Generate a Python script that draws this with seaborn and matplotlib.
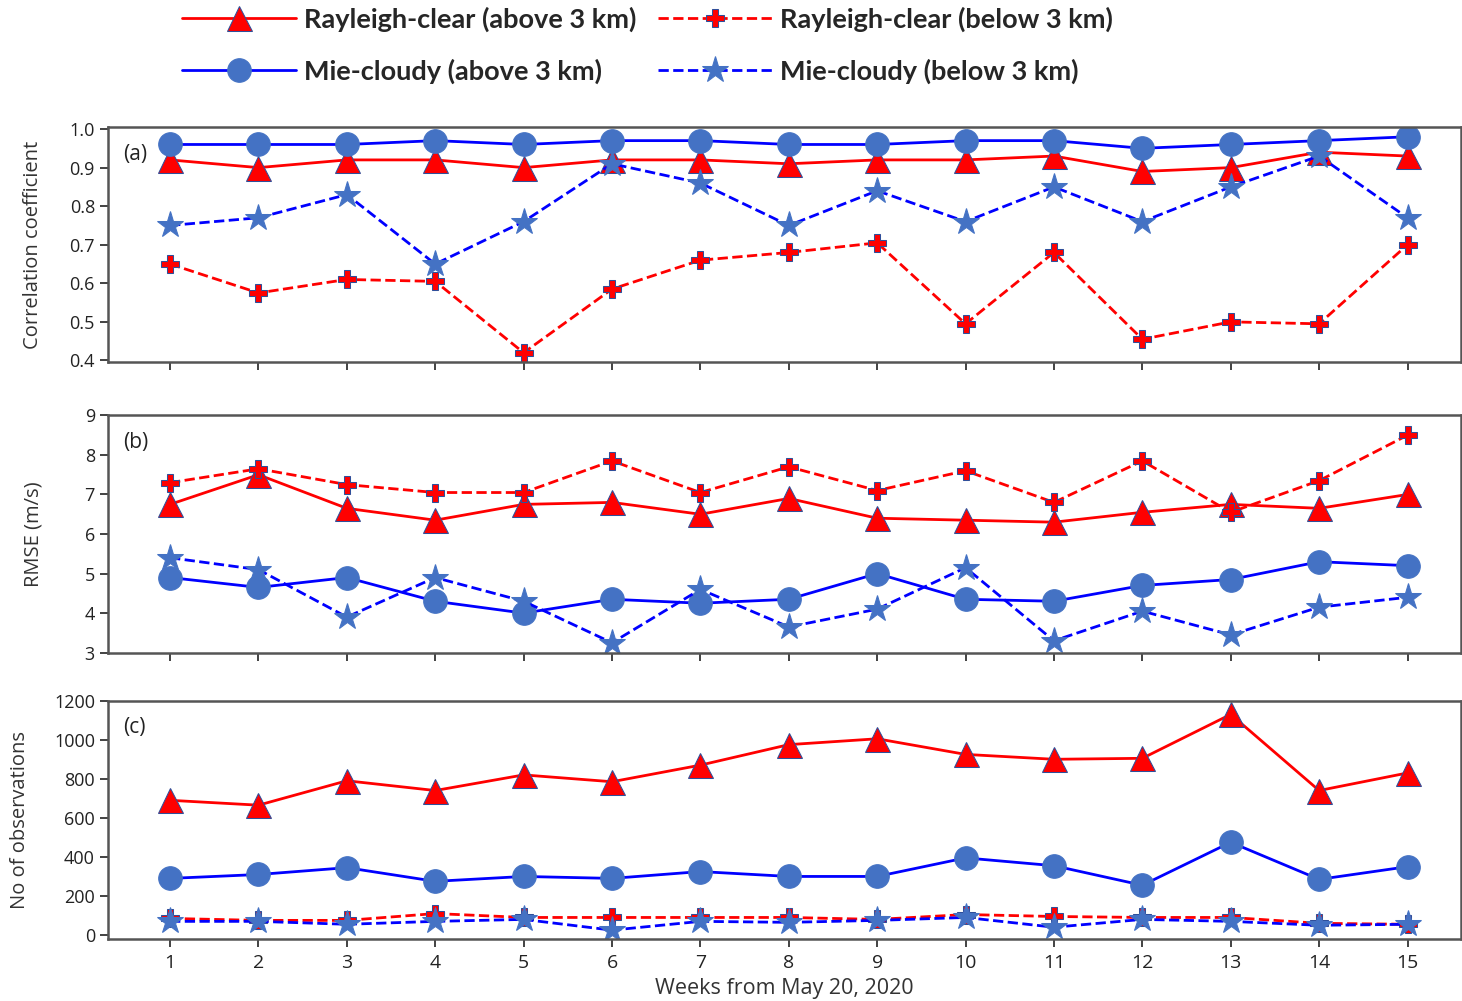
import numpy as np
import pandas as pd
import matplotlib
matplotlib.use("Agg")
import matplotlib.pyplot as plt
import seaborn as sns

# ================= DATA =================
weeks = list(range(1, 16))

# (a) correlation coefficient
corr_ray_above = [0.92, 0.90, 0.92, 0.92, 0.90, 0.92, 0.92, 0.91, 0.92, 0.92, 0.93, 0.89, 0.90, 0.94, 0.93]
corr_ray_below = [0.65, 0.575, 0.61, 0.605, 0.42, 0.585, 0.66, 0.68, 0.705, 0.495, 0.68, 0.455, 0.50, 0.495, 0.70]
corr_mie_above = [0.96, 0.96, 0.96, 0.97, 0.96, 0.97, 0.97, 0.96, 0.96, 0.97, 0.97, 0.95, 0.96, 0.97, 0.98]
corr_mie_below = [0.75, 0.77, 0.83, 0.65, 0.76, 0.91, 0.86, 0.75, 0.84, 0.76, 0.85, 0.76, 0.85, 0.93, 0.77]

# (b) RMSE (m/s)
rmse_ray_above = [6.75, 7.5, 6.65, 6.35, 6.75, 6.8, 6.5, 6.9, 6.4, 6.35, 6.3, 6.55, 6.75, 6.65, 7.0]
rmse_ray_below = [7.3, 7.65, 7.25, 7.05, 7.05, 7.85, 7.05, 7.7, 7.1, 7.6, 6.8, 7.85, 6.55, 7.35, 8.5]
rmse_mie_above = [4.9, 4.65, 4.9, 4.3, 4.0, 4.35, 4.25, 4.35, 5.0, 4.35, 4.3, 4.7, 4.85, 5.3, 5.2]
rmse_mie_below = [5.4, 5.1, 3.9, 4.9, 4.3, 3.25, 4.6, 3.65, 4.1, 5.15, 3.3, 4.05, 3.45, 4.15, 4.4]

# (c) number of observations
nobs_ray_above = [690, 665, 790, 740, 820, 785, 870, 975, 1005, 925, 900, 905, 1130, 740, 830]
nobs_ray_below = [85, 75, 75, 110, 90, 90, 90, 90, 80, 105, 95, 90, 90, 60, 55]
nobs_mie_above = [290, 310, 345, 275, 300, 290, 325, 300, 300, 395, 355, 255, 475, 285, 350]
nobs_mie_below = [70, 70, 55, 70, 80, 25, 70, 65, 75, 90, 40, 80, 70, 50, 55]

labels = ["Rayleigh-clear (above 3 km)", "Rayleigh-clear (below 3 km)",
          "Mie-cloudy (above 3 km)", "Mie-cloudy (below 3 km)"]

# ================= STYLE =================
sns.set_style("white")
plt.rcParams["font.family"] = ["Open Sans", "DejaVu Sans"]

MIE_FACE = "#4472C4"
EDGE = "#2F4F9A"

styles = {
    labels[0]: dict(color="red", linestyle="-", marker="^", markersize=18,
                    markerfacecolor="red", markeredgecolor=EDGE),
    labels[1]: dict(color="red", linestyle="--", marker="P", markersize=13,
                    markerfacecolor="red", markeredgecolor=EDGE),
    labels[2]: dict(color="blue", linestyle="-", marker="o", markersize=17,
                    markerfacecolor=MIE_FACE, markeredgecolor=MIE_FACE),
    labels[3]: dict(color="blue", linestyle="--", marker="*", markersize=20,
                    markerfacecolor=MIE_FACE, markeredgecolor=MIE_FACE),
}

panels = [
    ([corr_ray_above, corr_ray_below, corr_mie_above, corr_mie_below],
     "Correlation coefficient", (0.395, 1.005), [0.4, 0.5, 0.6, 0.7, 0.8, 0.9, 1.0], "(a)", -0.048),
    ([rmse_ray_above, rmse_ray_below, rmse_mie_above, rmse_mie_below],
     "RMSE (m/s)", (3, 9), [3, 4, 5, 6, 7, 8, 9], "(b)", -0.048),
    ([nobs_ray_above, nobs_ray_below, nobs_mie_above, nobs_mie_below],
     "No of observations", (-20, 1200), [0, 200, 400, 600, 800, 1000, 1200], "(c)", -0.058),
]

fig = plt.figure(figsize=(14.62, 10.01), dpi=100)
boxes = [(0.074, 0.638, 0.925, 0.235),
         (0.074, 0.348, 0.925, 0.237),
         (0.074, 0.062, 0.925, 0.238)]

axes = []
for box, (series, ylabel, ylim, yticks, tag, lab_x) in zip(boxes, panels):
    ax = fig.add_axes(box)
    for lab, vals in zip(labels, series):
        df = pd.DataFrame({"week": weeks, "value": vals})
        sns.lineplot(data=df, x="week", y="value", ax=ax, label=lab,
                     linewidth=2, legend=False, **styles[lab])
    ax.set_xlim(0.3, 15.6)
    ax.set_ylim(*ylim)
    ax.set_yticks(yticks)
    ax.set_xticks(weeks)
    ax.set_ylabel(ylabel, fontsize=14.5, color="#333333")
    ax.yaxis.set_label_coords(lab_x, 0.5)
    ax.set_xlabel("")
    ax.tick_params(axis="both", direction="out", length=6, width=1.2,
                   labelsize=13, colors="#222222", left=True, bottom=True)
    ax.tick_params(axis="x", labelsize=14, pad=5)
    for sp in ax.spines.values():
        sp.set_color("#555555")
        sp.set_linewidth(1.8)
    ax.text(0.011, 0.93, tag, transform=ax.transAxes, fontsize=15,
            va="top", ha="left", color="#222222")
    axes.append(ax)

for ax in axes[:2]:
    ax.set_xticklabels([])
axes[2].set_xlabel("Weeks from May 20, 2020", fontsize=15.5, color="#333333",
                   labelpad=4)

# ================= LEGEND =================
handles, hlabels = axes[0].get_legend_handles_labels()
order = [0, 2, 1, 3]
fig.legend([handles[i] for i in order], [hlabels[i] for i in order],
           loc="upper center", bbox_to_anchor=(0.443, 1.018), ncol=2,
           frameon=False, handlelength=4.2, handletextpad=0.3,
           labelspacing=1.0, columnspacing=0.8,
           prop={"family": "Lato", "weight": "bold", "size": 19.5})

fig.savefig("out.png", dpi=100)
